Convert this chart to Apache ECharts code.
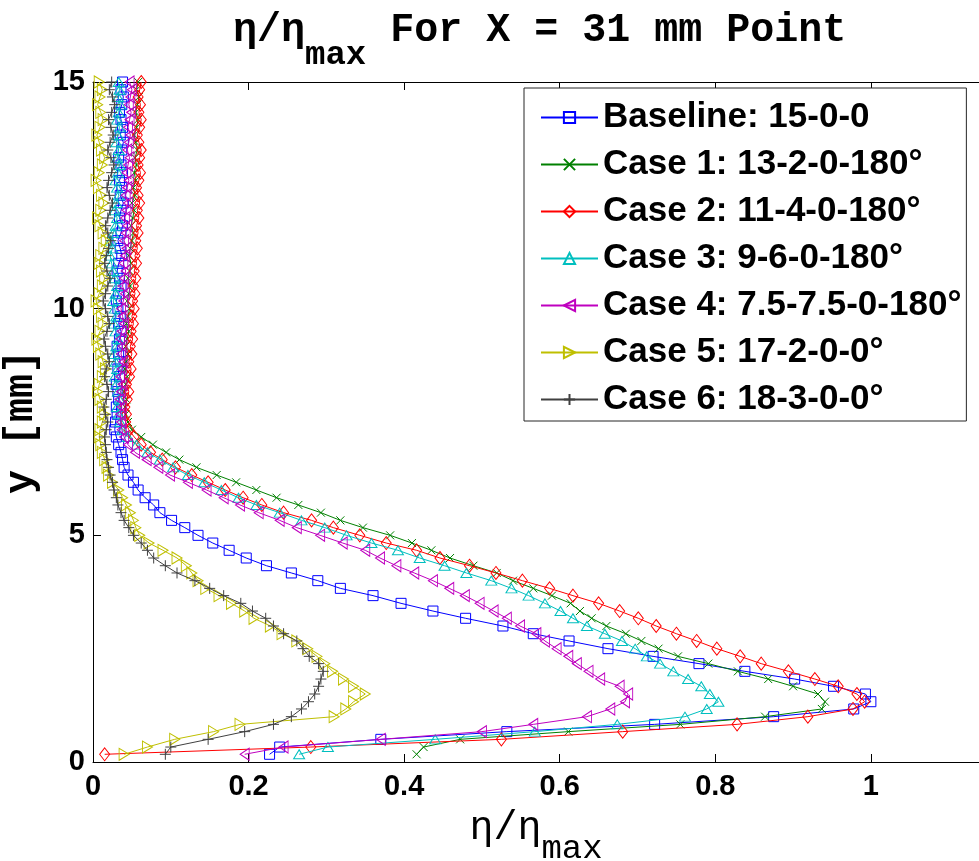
<!DOCTYPE html>
<html>
<head>
<meta charset="utf-8">
<script src="https://cdn.jsdelivr.net/npm/echarts@6/dist/echarts.min.js"></script>
<style>
  html, body { margin: 0; padding: 0; background: #ffffff; }
  #chart { width: 979px; height: 861px; }
</style>
</head>
<body>
<div id="chart"></div>
<script>
// Measurement heights above the wall [mm]
const yPositions = [
  0.17, 0.33, 0.50, 0.67, 0.83, 1.00, 1.17, 1.33, 1.50, 1.67,
  1.83, 2.00, 2.17, 2.33, 2.50, 2.67, 2.83, 3.00, 3.17, 3.33,
  3.50, 3.67, 3.83, 4.00, 4.17, 4.33, 4.50, 4.67, 4.83, 5.00,
  5.17, 5.33, 5.50, 5.67, 5.83, 6.00, 6.17, 6.33, 6.50, 6.67,
  6.83, 7.00, 7.17, 7.33, 7.50, 7.67, 7.83, 8.00, 8.17, 8.33,
  8.50, 8.67, 8.83, 9.00, 9.17, 9.33, 9.50, 9.67, 9.83, 10.00,
  10.17, 10.33, 10.50, 10.67, 10.83, 11.00, 11.17, 11.33, 11.50, 11.67,
  11.83, 12.00, 12.17, 12.33, 12.50, 12.67, 12.83, 13.00, 13.17, 13.33,
  13.50, 13.67, 13.83, 14.00, 14.17, 14.33, 14.50, 14.67, 14.83, 15.00
];

// Normalised effectiveness eta/eta_max at each height, one list per case
const baseline = [
  0.227, 0.240, 0.370, 0.532, 0.722, 0.875, 0.978, 1.000, 0.993, 0.952,
  0.902, 0.838, 0.779, 0.720, 0.662, 0.612, 0.566, 0.527, 0.479, 0.437,
  0.396, 0.360, 0.318, 0.289, 0.255, 0.223, 0.197, 0.175, 0.154, 0.135,
  0.118, 0.101, 0.086, 0.078, 0.067, 0.058, 0.052, 0.045, 0.040, 0.038,
  0.036, 0.033, 0.030, 0.028, 0.029, 0.031, 0.030, 0.033, 0.032, 0.030,
  0.034, 0.032, 0.035, 0.033, 0.031, 0.034, 0.036, 0.033, 0.035, 0.032,
  0.030, 0.033, 0.036, 0.034, 0.031, 0.033, 0.037, 0.035, 0.032, 0.036,
  0.038, 0.034, 0.036, 0.039, 0.035, 0.037, 0.034, 0.038, 0.036, 0.033,
  0.037, 0.039, 0.035, 0.038, 0.036, 0.034, 0.037, 0.039, 0.036, 0.038
];
const case1 = [
  0.416, 0.425, 0.472, 0.611, 0.755, 0.864, 0.937, 0.941, 0.932, 0.900,
  0.868, 0.829, 0.791, 0.752, 0.727, 0.705, 0.685, 0.660, 0.641, 0.626,
  0.614, 0.590, 0.566, 0.540, 0.519, 0.489, 0.459, 0.435, 0.410, 0.382,
  0.347, 0.318, 0.293, 0.264, 0.236, 0.210, 0.184, 0.159, 0.133, 0.111,
  0.094, 0.077, 0.062, 0.050, 0.045, 0.042, 0.041, 0.043, 0.040, 0.042,
  0.044, 0.041, 0.043, 0.045, 0.042, 0.044, 0.046, 0.043, 0.045, 0.047,
  0.044, 0.046, 0.048, 0.045, 0.047, 0.049, 0.046, 0.048, 0.050, 0.052,
  0.049, 0.051, 0.053, 0.050, 0.054, 0.052, 0.055, 0.053, 0.056, 0.054,
  0.057, 0.055, 0.053, 0.056, 0.058, 0.055, 0.057, 0.059, 0.056, 0.058
];
const case2 = [
  0.015, 0.280, 0.525, 0.681, 0.828, 0.919, 0.977, 0.992, 0.982, 0.958,
  0.928, 0.894, 0.859, 0.832, 0.802, 0.776, 0.750, 0.724, 0.701, 0.677,
  0.650, 0.617, 0.587, 0.552, 0.518, 0.484, 0.446, 0.416, 0.377, 0.343,
  0.309, 0.281, 0.245, 0.217, 0.193, 0.170, 0.148, 0.127, 0.106, 0.089,
  0.074, 0.062, 0.053, 0.046, 0.042, 0.043, 0.041, 0.044, 0.046, 0.043,
  0.047, 0.049, 0.046, 0.050, 0.048, 0.051, 0.049, 0.052, 0.050, 0.053,
  0.051, 0.054, 0.052, 0.055, 0.053, 0.056, 0.054, 0.057, 0.055, 0.058,
  0.056, 0.059, 0.057, 0.060, 0.058, 0.056, 0.059, 0.061, 0.058, 0.060,
  0.062, 0.059, 0.057, 0.060, 0.062, 0.059, 0.061, 0.058, 0.060, 0.062
];
const case3 = [
  0.265, 0.302, 0.440, 0.568, 0.674, 0.761, 0.789, 0.804, 0.793, 0.782,
  0.765, 0.746, 0.729, 0.712, 0.697, 0.680, 0.658, 0.635, 0.617, 0.601,
  0.581, 0.560, 0.538, 0.512, 0.480, 0.452, 0.420, 0.392, 0.358, 0.326,
  0.298, 0.268, 0.240, 0.210, 0.187, 0.165, 0.143, 0.122, 0.103, 0.086,
  0.070, 0.056, 0.045, 0.038, 0.035, 0.033, 0.031, 0.034, 0.032, 0.030,
  0.028, 0.031, 0.029, 0.027, 0.030, 0.032, 0.029, 0.027, 0.030, 0.028,
  0.026, 0.029, 0.031, 0.028, 0.026, 0.024, 0.022, 0.025, 0.023, 0.026,
  0.029, 0.031, 0.028, 0.030, 0.033, 0.031, 0.029, 0.032, 0.034, 0.031,
  0.033, 0.030, 0.032, 0.034, 0.031, 0.033, 0.035, 0.032, 0.034, 0.033
];
const case4 = [
  0.195, 0.245, 0.370, 0.500, 0.566, 0.635, 0.665, 0.684, 0.688, 0.677,
  0.652, 0.637, 0.622, 0.611, 0.596, 0.581, 0.570, 0.549, 0.532, 0.515,
  0.497, 0.478, 0.458, 0.437, 0.413, 0.390, 0.369, 0.350, 0.321, 0.292,
  0.262, 0.240, 0.213, 0.189, 0.168, 0.146, 0.122, 0.099, 0.084, 0.069,
  0.054, 0.045, 0.040, 0.037, 0.036, 0.035, 0.037, 0.034, 0.036, 0.038,
  0.035, 0.037, 0.039, 0.036, 0.038, 0.035, 0.037, 0.040, 0.038, 0.036,
  0.039, 0.041, 0.038, 0.040, 0.042, 0.039, 0.041, 0.043, 0.040, 0.042,
  0.044, 0.041, 0.043, 0.045, 0.042, 0.044, 0.046, 0.043, 0.045, 0.047,
  0.044, 0.046, 0.048, 0.045, 0.047, 0.049, 0.046, 0.048, 0.050, 0.047
];
const case5 = [
  0.040, 0.070, 0.105, 0.155, 0.189, 0.310, 0.325, 0.335, 0.350, 0.335,
  0.322, 0.308, 0.298, 0.288, 0.276, 0.262, 0.243, 0.228, 0.207, 0.195,
  0.178, 0.162, 0.145, 0.135, 0.127, 0.120, 0.108, 0.090, 0.072, 0.060,
  0.055, 0.052, 0.048, 0.043, 0.038, 0.033, 0.025, 0.020, 0.018, 0.015,
  0.012, 0.010, 0.008, 0.009, 0.012, 0.015, 0.012, 0.009, 0.006, 0.008,
  0.012, 0.016, 0.013, 0.010, 0.007, 0.005, 0.009, 0.013, 0.011, 0.007,
  0.004, 0.008, 0.012, 0.015, 0.011, 0.008, 0.010, 0.014, 0.017, 0.013,
  0.009, 0.006, 0.010, 0.014, 0.011, 0.007, 0.004, 0.008, 0.012, 0.015,
  0.011, 0.008, 0.005, 0.009, 0.013, 0.010, 0.006, 0.009, 0.012, 0.008
];
const case6 = [
  0.093, 0.100, 0.148, 0.195, 0.232, 0.255, 0.268, 0.277, 0.285, 0.290,
  0.293, 0.296, 0.290, 0.278, 0.270, 0.262, 0.245, 0.232, 0.222, 0.205,
  0.190, 0.168, 0.150, 0.131, 0.108, 0.093, 0.078, 0.070, 0.062, 0.052,
  0.046, 0.040, 0.036, 0.032, 0.030, 0.027, 0.025, 0.022, 0.020, 0.018,
  0.017, 0.016, 0.015, 0.017, 0.019, 0.016, 0.014, 0.017, 0.020, 0.018,
  0.015, 0.017, 0.021, 0.019, 0.016, 0.014, 0.018, 0.021, 0.019, 0.016,
  0.013, 0.016, 0.019, 0.022, 0.018, 0.015, 0.017, 0.020, 0.023, 0.019,
  0.016, 0.019, 0.022, 0.025, 0.021, 0.018, 0.020, 0.024, 0.027, 0.023,
  0.019, 0.022, 0.026, 0.023, 0.020, 0.024, 0.028, 0.025, 0.021, 0.024
];

const seriesNames = [
  'Baseline: 15-0-0',
  'Case 1: 13-2-0-180°',
  'Case 2: 11-4-0-180°',
  'Case 3: 9-6-0-180°',
  'Case 4: 7.5-7.5-0-180°',
  'Case 5: 17-2-0-0°',
  'Case 6: 18-3-0-0°'
];
const seriesValues = [baseline, case1, case2, case3, case4, case5, case6];

const xTickValues = [0, 0.2, 0.4, 0.6, 0.8, 1];
const yTickValues = [0, 5, 10, 15];

// Line colours and open marker shapes, one per case
const lineColors = ['#0000ff', '#008000', '#ff0000', '#00bfbf', '#bf00bf', '#bfbf00', '#404040'];
const markerShapes = [
  'rect',
  'path://M0,0L10,10M0,10L10,0',
  'diamond',
  'triangle',
  'path://M0,5L10,0L10,10Z',
  'path://M10,5L0,0L0,10Z',
  'path://M5,0L5,10M0,5L10,5'
];
const markerSizes = [10, 8, [10, 13], [11, 9], [9, 12], [10, 12], 11];

const monoFont = "'Liberation Mono', 'Courier New', monospace";
const sansFont = "'Liberation Sans', Arial, Helvetica, sans-serif";

const chart = echarts.init(document.getElementById('chart'), null, { renderer: 'canvas' });

const series = seriesNames.map((name, i) => ({
  name: name,
  type: 'line',
  data: seriesValues[i].map((v, k) => [v, yPositions[k]]),
  symbol: markerShapes[i],
  symbolSize: markerSizes[i],
  showSymbol: true,
  clip: true,
  lineStyle: { color: lineColors[i], width: 1 },
  itemStyle: { color: 'rgba(0,0,0,0)', borderColor: lineColors[i], borderWidth: 1 },
  emphasis: { disabled: true },
  z: 2 + i
}));

const axisLineStyle = { lineStyle: { color: '#000000', width: 1 } };
const tickFont = { fontFamily: sansFont, fontWeight: 'bold', fontSize: 29, color: '#000' };

chart.setOption({
  animation: false,
  backgroundColor: '#ffffff',
  title: {
    text: '{a|η/η}{s|max}{a| For X = 31 mm Point}',
    left: 228,
    top: 6,
    textStyle: {
      rich: {
        a: { fontFamily: monoFont, fontWeight: 'bold', fontSize: 40, color: '#000', verticalAlign: 'top', lineHeight: 40 },
        s: { fontFamily: monoFont, fontWeight: 'bold', fontSize: 34, color: '#000', verticalAlign: 'top', padding: [27, 0, 0, 0] }
      }
    }
  },
  legend: {
    orient: 'vertical',
    left: 524,
    top: 88,
    padding: [12, 5, 4, 16],
    itemWidth: 57,
    itemHeight: 14,
    itemGap: 12,
    backgroundColor: '#ffffff',
    borderColor: '#262626',
    borderWidth: 1,
    textStyle: { fontFamily: sansFont, fontWeight: 'bold', fontSize: 35, color: '#000' },
    data: seriesNames
  },
  grid: { left: 93, right: 0, top: 82, bottom: 99, containLabel: false, outerBoundsMode: 'none' },
  xAxis: [
    {
      type: 'value', position: 'bottom', min: 0, max: 1.139,
      axisLine: axisLineStyle,
      axisTick: { inside: true, length: 8, customValues: xTickValues, lineStyle: { color: '#000' } },
      axisLabel: Object.assign({ customValues: xTickValues, margin: 10, alignMinLabel: 'center', alignMaxLabel: 'center', hideOverlap: false }, tickFont),
      splitLine: { show: false },
      name: '{a|η/η}{s|max}',
      nameLocation: 'middle',
      nameGap: 46,
      nameTextStyle: {
        rich: {
          a: { fontFamily: monoFont, fontSize: 40, color: '#000', verticalAlign: 'top', lineHeight: 40 },
          s: { fontFamily: monoFont, fontSize: 34, color: '#000', verticalAlign: 'top', padding: [24, 0, 0, 0] }
        }
      }
    },
    {
      type: 'value', position: 'top', min: 0, max: 1.139,
      axisLine: axisLineStyle,
      axisTick: { inside: true, length: 8, customValues: xTickValues, lineStyle: { color: '#000' } },
      axisLabel: { show: false },
      splitLine: { show: false }
    }
  ],
  yAxis: {
    type: 'value', min: 0, max: 15,
    axisLine: axisLineStyle,
    axisTick: { inside: true, length: 8, customValues: yTickValues, lineStyle: { color: '#000' } },
    axisLabel: Object.assign({ customValues: yTickValues, margin: 8, verticalAlignMinLabel: 'middle', verticalAlignMaxLabel: 'middle', hideOverlap: false }, tickFont),
    splitLine: { show: false },
    name: 'y [mm]',
    nameLocation: 'middle',
    nameGap: 40,
    nameTextStyle: { fontFamily: monoFont, fontWeight: 'bold', fontSize: 40, color: '#000' }
  },
  series: series
});
</script>
</body>
</html>
